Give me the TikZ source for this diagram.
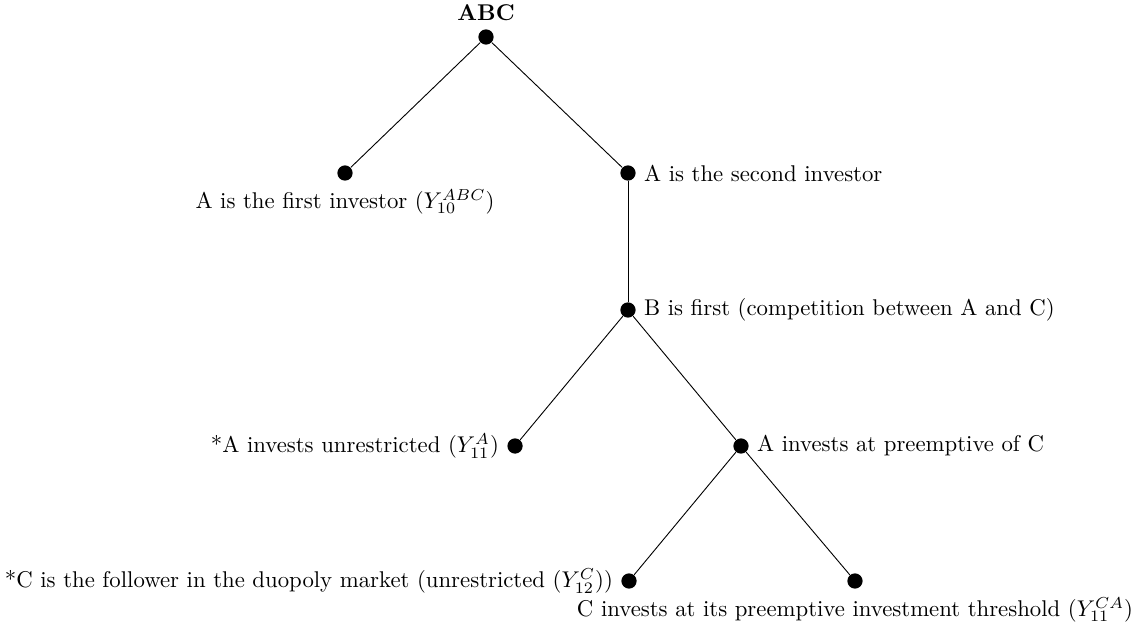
\documentclass[tikz,border=0pt]{standalone}
\usepackage{tikz}

\begin{document}
\begin{tikzpicture}[dot/.style={circle, fill, inner sep=0pt, minimum size=6.7pt}]
    \useasboundingbox (0,0) rectangle (17.577,-9.722);
    \node[dot, label=above:{\textbf{ABC}}] (abc) at (7.5,-0.571) {};
    \node[dot, label=below:{A is the first investor ($Y_{10}^{ABC}$)}] (afirst) at (5.324,-2.67) {};
    \node[dot, label=right:{A is the second investor}] (asecond) at (9.691,-2.67) {};
    \node[dot, label=right:{B is first (competition between A and C)}] (bfirst) at (9.691,-4.784) {};
    \node[dot, label=left:{*A invests unrestricted ($Y_{11}^{A}$)}] (aunr) at (7.948,-6.883) {};
    \node[dot, label=right:{A invests at preemptive of C}] (apre) at (11.435,-6.883) {};
    \node[dot, label=left:{*C is the follower in the duopoly market (unrestricted ($Y_{12}^{C}$))}] (cfol) at (9.707,-8.966) {};
    \node[dot, label=below:{C invests at its preemptive investment threshold ($Y_{11}^{CA}$)}] (cinv) at (13.194,-8.966) {};
    \draw (abc) to (afirst);
    \draw (abc) to (asecond);
    \draw (asecond) to (bfirst);
    \draw (bfirst) to (aunr);
    \draw (bfirst) to (apre);
    \draw (apre) to (cfol);
    \draw (apre) to (cinv);
\end{tikzpicture}
\end{document}
